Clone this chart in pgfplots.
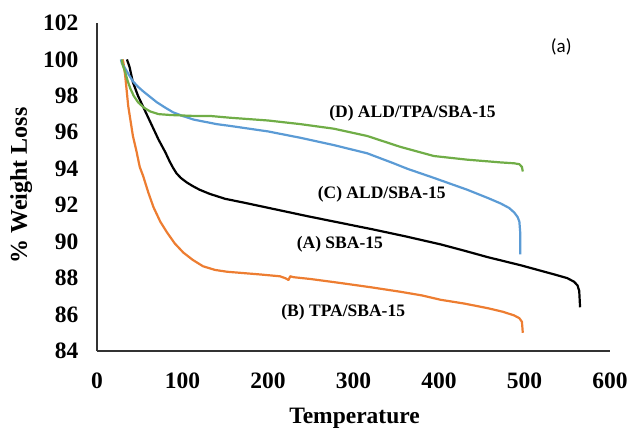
\documentclass[border=0pt]{standalone}
\usepackage{pgfplots}
\pgfplotsset{compat=1.18}
\usepackage{fontspec}
\setmainfont{Liberation Serif}
\newfontfamily\calib{Carlito}
\definecolor{xorange}{HTML}{ED7D31}
\definecolor{xblue}{HTML}{5B9BD5}
\definecolor{xgreen}{HTML}{70AD47}
\begin{document}
\begin{tikzpicture}
\useasboundingbox (-97pt,-78pt) rectangle (535pt,351pt);
\begin{axis}[
  scale only axis, width=513pt, height=328pt,
  xmin=0, xmax=600, ymin=84, ymax=102,
  xtick={0,100,...,600}, ytick={84,86,...,102},
  axis x line=bottom, axis y line=left,
  axis line style={-, line width=1.3pt, black!80},
  major tick length=0pt,
  /pgf/number format/assume math mode=true,
  tick label style={font=\fontsize{23.5}{27}\selectfont\bfseries},
  yticklabel style={xshift=-15pt},
  xticklabel style={yshift=-18pt},
  xlabel={Temperature}, ylabel={\% Weight Loss},
  xlabel style={font=\fontsize{23.5}{27}\selectfont\bfseries, at={(axis description cs:0.502,-0.206)}, anchor=center},
  ylabel style={font=\fontsize{24}{28}\selectfont\bfseries, at={(axis description cs:-0.148,0.505)}, anchor=center},
  clip=false,
  every axis plot/.append style={line width=2.2pt, line join=round, no markers},
]
% (A) SBA-15
\addplot[black] coordinates {
(35,100.0)(38,99.6)(42,98.75)(48,98.0)(54,97.4)(60,96.8)(66,96.2)(72,95.6)(80,94.9)(85,94.4)(89,94.05)(93,93.75)(98,93.5)(105,93.25)(112,93.05)(120,92.85)(132,92.62)(150,92.35)(171,92.15)(191,91.95)(211,91.75)(246,91.4)(285,91.03)(320,90.7)(360,90.3)(402,89.85)(430,89.5)(457,89.15)(496,88.7)(535,88.2)(550,88.0)(558,87.8)(562,87.6)(564,87.3)(565,86.4)};
% (B) TPA/SBA-15
\addplot[xorange] coordinates {
(30,100.0)(31,99.8)(33,99.1)(36.5,97.45)(42,95.8)(46,95.0)(50,94.1)(54,93.6)(60,92.7)(66,91.9)(74,91.1)(82,90.5)(91,89.9)(101,89.4)(112,89.0)(124,88.65)(138,88.45)(152,88.35)(191,88.2)(214,88.1)(220,88.0)(224,87.9)(226,88.1)(230,88.05)(250,87.95)(285,87.73)(320,87.5)(355,87.25)(380,87.05)(402,86.81)(430,86.6)(457,86.35)(475,86.15)(488,85.95)(494,85.8)(497,85.6)(498,85.0)};
% (C) ALD/SBA-15
\addplot[xblue] coordinates {
(28,100.0)(29,99.8)(33,99.5)(38,99.1)(42,98.8)(48,98.5)(54,98.25)(62,97.95)(70,97.65)(80,97.35)(89,97.1)(100,96.9)(113,96.7)(140,96.45)(156,96.35)(200,96.05)(238,95.7)(277,95.3)(316,94.85)(347,94.3)(363,94.0)(394,93.5)(433,92.85)(457,92.4)(472,92.1)(482,91.85)(488,91.6)(492,91.35)(494,91.1)(495,90.5)(495,89.3)};
% (D) ALD/TPA/SBA-15
\addplot[xgreen] coordinates {
(29,100.0)(30,99.7)(33,99.3)(36,98.8)(39,98.4)(43,98.0)(48,97.65)(55,97.35)(62,97.15)(72,97.0)(86,96.95)(113,96.9)(132,96.9)(156,96.8)(200,96.65)(238,96.45)(277,96.2)(316,95.8)(355,95.2)(394,94.7)(433,94.5)(472,94.35)(488,94.3)(494,94.25)(497,94.1)(498,93.85)};
\node[font=\fontsize{17.5}{20}\selectfont\bfseries] at (axis cs:369,97.05) {(D) ALD/TPA/SBA-15};
\node[font=\fontsize{17.5}{20}\selectfont\bfseries] at (axis cs:333,92.6) {(C) ALD/SBA-15};
\node[font=\fontsize{17.5}{20}\selectfont\bfseries] at (axis cs:284,89.84) {(A) SBA-15};
\node[font=\fontsize{17.5}{20}\selectfont\bfseries] at (axis cs:288,86.15) {(B) TPA/SBA-15};
\node[font=\fontsize{19}{22}\selectfont\calib] at (axis cs:543,100.7) {(a)};
\end{axis}
\end{tikzpicture}
\end{document}
